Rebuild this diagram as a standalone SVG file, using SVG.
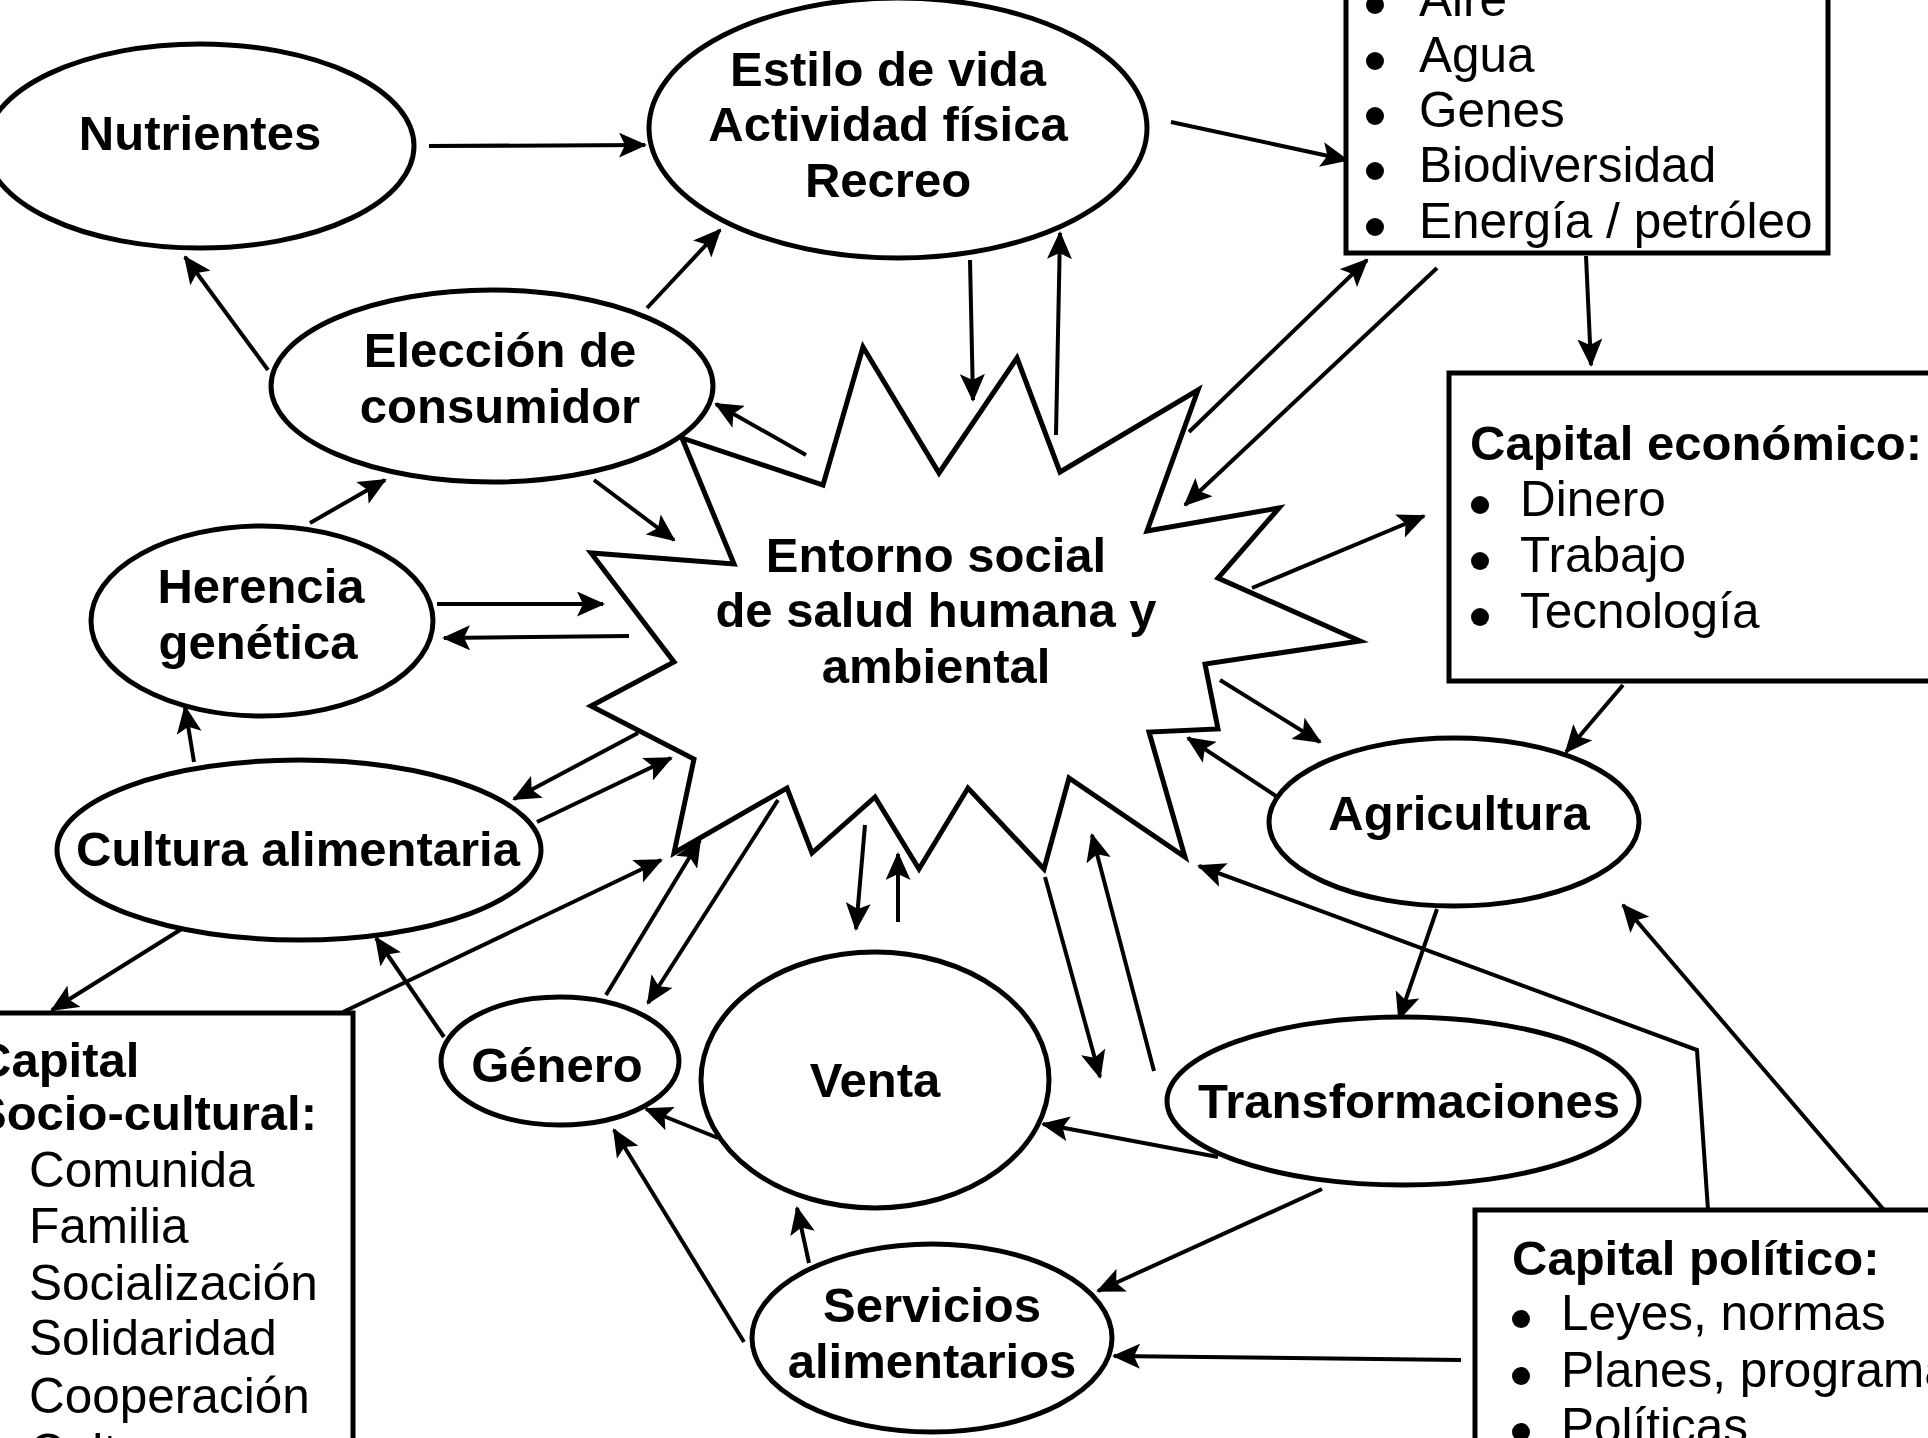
<svg xmlns="http://www.w3.org/2000/svg" width="1928" height="1438" viewBox="0 0 1928 1438">
<style>
.n{fill:#fff;stroke:#000;stroke-width:5}
.b{fill:#fff;stroke:#000;stroke-width:5}
.c line,.c polyline{stroke:#000;stroke-width:4;fill:none;marker-end:url(#ah)}
.t{font-family:"Liberation Sans",Arial,sans-serif;font-size:49px;font-weight:bold;text-anchor:middle;fill:#000}
.l{font-family:"Liberation Sans",Arial,sans-serif;font-size:49.5px;fill:#000}
.h{font-family:"Liberation Sans",Arial,sans-serif;font-size:49px;font-weight:bold;fill:#000}
</style>
<defs>
<marker id="ah" viewBox="0 0 28 25" refX="26" refY="12.5" markerWidth="28" markerHeight="25" orient="auto" markerUnits="userSpaceOnUse">
<path d="M0,0 L28,12.5 L0,25 L6,12.5 z" fill="#000"/>
</marker>
</defs>
<rect width="1928" height="1438" fill="#fff"/>

<g id="connectors" class="c">
<line x1="429" y1="146" x2="645" y2="145"/>
<line x1="268" y1="370" x2="185" y2="257"/>
<line x1="647" y1="308" x2="720" y2="230"/>
<line x1="970" y1="260" x2="973" y2="400"/>
<line x1="1056" y1="435" x2="1060" y2="233"/>
<line x1="1171" y1="122" x2="1347" y2="160"/>
<line x1="1189" y1="432" x2="1367" y2="260"/>
<line x1="1437" y1="268" x2="1185" y2="505"/>
<line x1="1586" y1="256" x2="1591" y2="365"/>
<line x1="1252" y1="588" x2="1424" y2="516"/>
<line x1="1623" y1="685" x2="1566" y2="752"/>
<line x1="1220" y1="680" x2="1320" y2="742"/>
<line x1="1279" y1="798" x2="1188" y2="738"/>
<line x1="1437" y1="909" x2="1399" y2="1019"/>
<line x1="1154" y1="1071" x2="1092" y2="835"/>
<line x1="1045" y1="877" x2="1100" y2="1077"/>
<line x1="1218" y1="1157" x2="1043" y2="1124"/>
<line x1="1322" y1="1189" x2="1098" y2="1291"/>
<line x1="809" y1="1263" x2="797" y2="1208"/>
<line x1="744" y1="1342" x2="614" y2="1130"/>
<line x1="718" y1="1138" x2="646" y2="1109"/>
<line x1="444" y1="1037" x2="376" y2="938"/>
<line x1="343" y1="1012" x2="661" y2="860"/>
<line x1="188" y1="925" x2="52" y2="1010"/>
<line x1="194" y1="762" x2="185" y2="707"/>
<line x1="310" y1="523" x2="385" y2="480"/>
<line x1="437" y1="604" x2="603" y2="604"/>
<line x1="629" y1="636" x2="444" y2="638"/>
<line x1="594" y1="480" x2="674" y2="540"/>
<line x1="806" y1="455" x2="716" y2="404"/>
<line x1="638" y1="733" x2="514" y2="799"/>
<line x1="537" y1="822" x2="671" y2="758"/>
<line x1="606" y1="995" x2="700" y2="840"/>
<line x1="778" y1="800" x2="648" y2="1003"/>
<line x1="865" y1="825" x2="856" y2="929"/>
<line x1="898" y1="922" x2="898" y2="854"/>
<polyline points="1708,1210 1697,1050 1199,866"/>
<line x1="1884" y1="1210" x2="1623" y2="905"/>
<line x1="1461" y1="1360" x2="1114" y2="1356"/>
</g>

<g id="entorno">
<polygon class="n" points="863,347 939,473 1017,358 1060,472 1198,390 1147,531 1279,508 1218,578 1360,641 1205,664 1218,729 1149,732 1185,857 1069,778 1044,869 968,788 919,869 875,797 812,853 787,788 674,853 694,759 591,706 674,662 591,553 734,564 682,438 823,485"/>
<text class="t" x="936" y="572">Entorno social</text>
<text class="t" x="936" y="627">de salud humana y</text>
<text class="t" x="936" y="683">ambiental</text>
</g>

<g id="nutrientes">
<ellipse class="n" cx="200" cy="146" rx="214" ry="102"/>
<text class="t" x="200" y="150">Nutrientes</text>
</g>

<g id="estilo">
<ellipse class="n" cx="898" cy="128" rx="249" ry="130"/>
<text class="t" x="888" y="86">Estilo de vida</text>
<text class="t" x="888" y="141">Actividad física</text>
<text class="t" x="888" y="197">Recreo</text>
</g>

<g id="eleccion">
<ellipse class="n" cx="492" cy="386" rx="221" ry="96"/>
<text class="t" x="500" y="367">Elección de</text>
<text class="t" x="500" y="423">consumidor</text>
</g>

<g id="herencia">
<ellipse class="n" cx="262" cy="621" rx="171" ry="95"/>
<text class="t" x="261" y="603">Herencia</text>
<text class="t" x="258" y="659">genética</text>
</g>

<g id="cultura">
<ellipse class="n" cx="299" cy="850" rx="242" ry="90"/>
<text class="t" x="298" y="866">Cultura alimentaria</text>
</g>

<g id="genero">
<ellipse class="n" cx="560" cy="1061" rx="119" ry="64"/>
<text class="t" x="557" y="1082">Género</text>
</g>

<g id="venta">
<ellipse class="n" cx="875" cy="1080" rx="174" ry="128"/>
<text class="t" x="875" y="1097">Venta</text>
</g>

<g id="servicios">
<ellipse class="n" cx="932" cy="1338" rx="180" ry="94"/>
<text class="t" x="932" y="1322">Servicios</text>
<text class="t" x="932" y="1378">alimentarios</text>
</g>

<g id="transformaciones">
<ellipse class="n" cx="1403" cy="1101" rx="236" ry="84"/>
<text class="t" x="1409" y="1118">Transformaciones</text>
</g>

<g id="agricultura">
<ellipse class="n" cx="1454" cy="822" rx="185" ry="84"/>
<text class="t" x="1459" y="830">Agricultura</text>
</g>

<g id="recursos">
<rect class="b" x="1346" y="-20" width="482" height="273"/>
<circle cx="1375" cy="5" r="9"/>
<circle cx="1375" cy="61" r="9"/>
<circle cx="1375" cy="116" r="9"/>
<circle cx="1375" cy="171" r="9"/>
<circle cx="1375" cy="227" r="9"/>
<text class="l" x="1419" y="16">Aire</text>
<text class="l" x="1419" y="72">Agua</text>
<text class="l" x="1419" y="127">Genes</text>
<text class="l" x="1419" y="182">Biodiversidad</text>
<text class="l" x="1419" y="238">Energía / petróleo</text>
</g>

<g id="capital-economico">
<rect class="b" x="1449" y="373" width="500" height="308"/>
<text class="h" x="1470" y="460">Capital económico:</text>
<circle cx="1480" cy="505" r="9"/>
<circle cx="1480" cy="561" r="9"/>
<circle cx="1480" cy="617" r="9"/>
<text class="l" x="1520" y="516">Dinero</text>
<text class="l" x="1520" y="572">Trabajo</text>
<text class="l" x="1520" y="628">Tecnología</text>
</g>

<g id="capital-socio-cultural">
<rect class="b" x="-20" y="1013" width="373" height="460"/>
<text class="h" x="-24" y="1077">Capital</text>
<text class="h" x="-26" y="1130">Socio-cultural:</text>
<text class="l" x="29" y="1187">Comunida</text>
<text class="l" x="29" y="1243">Familia</text>
<text class="l" x="29" y="1300">Socialización</text>
<text class="l" x="29" y="1355">Solidaridad</text>
<text class="l" x="29" y="1413">Cooperación</text>
<text class="l" x="29" y="1469">Cultura</text>
</g>

<g id="capital-politico">
<rect class="b" x="1475" y="1210" width="480" height="260"/>
<text class="h" x="1512" y="1275">Capital político:</text>
<circle cx="1521" cy="1319" r="9"/>
<circle cx="1521" cy="1376" r="9"/>
<circle cx="1521" cy="1432" r="9"/>
<text class="l" x="1561" y="1330">Leyes, normas</text>
<text class="l" x="1561" y="1387">Planes, programas</text>
<text class="l" x="1561" y="1443">Políticas</text>
</g>
</svg>
